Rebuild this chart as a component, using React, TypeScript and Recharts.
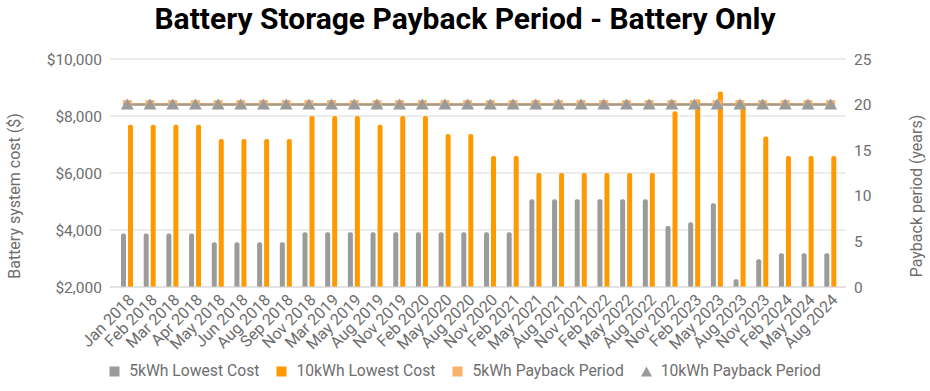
import { ComposedChart, Bar, Line, XAxis, YAxis, CartesianGrid } from 'recharts'

const categories = [
    'Jan 2018', 'Feb 2018', 'Mar 2018', 'Apr 2018', 'May 2018', 'Jun 2018', 'Aug 2018', 'Sep 2018',
    'Nov 2018', 'Mar 2019', 'May 2019', 'Aug 2019', 'Nov 2019', 'Feb 2020', 'May 2020', 'Aug 2020',
    'Nov 2020', 'Feb 2021', 'May 2021', 'Aug 2021', 'Nov 2021', 'Feb 2022', 'May 2022', 'Aug 2022',
    'Nov 2022', 'Feb 2023', 'May 2023', 'Aug 2023', 'Nov 2023', 'Feb 2024', 'May 2024', 'Aug 2024',
]

const cost5kWh = [
    3880, 3880, 3880, 3880, 3570, 3570, 3570, 3570,
    3920, 3920, 3920, 3920, 3920, 3920, 3920, 3920,
    3920, 3920, 5080, 5080, 5080, 5080, 5080, 5080,
    4140, 4270, 4940, 2270, 2970, 3180, 3180, 3180,
]

const cost10kWh = [
    7690, 7690, 7690, 7690, 7190, 7190, 7190, 7190,
    8000, 8000, 8000, 7690, 8000, 8000, 7370, 7370,
    6600, 6600, 6000, 6000, 6000, 6000, 6000, 6000,
    8170, 8590, 8860, 8440, 7280, 6600, 6600, 6600,
]

const payback5kWh = [
    20, 20, 20, 20, 20, 20, 20, 20, 20, 20, 20, 20, 20, 20, 20, 20,
    20, 20, 20, 20, 20, 20, 20, 20, 20, 20, 20, 20, 20, 20, 20, 20,
]

const payback10kWh = [
    20, 20, 20, 20, 20, 20, 20, 20, 20, 20, 20, 20, 20, 20, 20, 20,
    20, 20, 20, 20, 20, 20, 20, 20, 20, 20, 20, 20, 20, 20, 20, 20,
]

const costTicks = [2000, 4000, 6000, 8000, 10000]
const yearTicks = [0, 5, 10, 15, 20, 25]

const data = categories.map((c, i) => ({
    month: c,
    cost5: cost5kWh[i],
    cost10: cost10kWh[i],
    pay5: payback5kWh[i],
    pay10: payback10kWh[i],
}))

const TEXT = '#6e6e6e'
const GRID = '#d9d9d9'
const GREY = '#9b9b9b'
const ORANGE = '#ff9900'
const LIGHT = '#f8b26a'
const FONT = 'Roboto, sans-serif'

const money = (v: number) => '$' + String(v).replace(/\B(?=(\d{3})+(?!\d))/g, ',')

const MonthTick = ({ x, y, payload }: any) => (
    <text
        transform={`translate(${x + 8},${y + 6}) rotate(-45)`}
        textAnchor="end"
        fill={TEXT}
        fontSize={16}
        fontFamily={FONT}
    >
        {payload.value}
    </text>
)

const Triangle = ({ cx, cy }: any) => (
    <path d={`M${cx},${cy - 6} L${cx + 6.5},${cy + 5} L${cx - 6.5},${cy + 5} Z`} fill={GREY} />
)

const Square = ({ cx, cy }: any) => (
    <rect x={cx - 4.5} y={cy - 4.5} width={9} height={9} fill={LIGHT} />
)

const LeftTitle = ({ viewBox }: any) => {
    const cx = viewBox.x + 20
    const cy = viewBox.y + viewBox.height / 2 + 23
    return (
        <text transform={`translate(${cx},${cy}) rotate(-90)`} textAnchor="middle" fill={TEXT} fontSize={16} fontFamily={FONT}>
            Battery system cost ($)
        </text>
    )
}

const RightTitle = ({ viewBox }: any) => {
    const cx = viewBox.x + viewBox.width - 8
    const cy = viewBox.y + viewBox.height / 2 + 23
    return (
        <text transform={`translate(${cx},${cy}) rotate(-90)`} textAnchor="middle" fill={TEXT} fontSize={16} fontFamily={FONT}>
            Payback period (years)
        </text>
    )
}

const legendItems = [
    { label: '5kWh Lowest Cost', color: GREY, kind: 'square' },
    { label: '10kWh Lowest Cost', color: ORANGE, kind: 'square' },
    { label: '5kWh Payback Period', color: LIGHT, kind: 'square' },
    { label: '10kWh Payback Period', color: GREY, kind: 'triangle' },
]

export default function App() {
    return (
        <div style={{ position: 'absolute', left: 0, top: 0, width: 930, height: 391, background: '#fff', fontFamily: FONT }}>
            <div style={{
                position: 'absolute',
                top: 1,
                width: 930,
                textAlign: 'center',
                fontSize: 30,
                fontWeight: 700,
                color: '#000',
            }}>
                Battery Storage Payback Period - Battery Only
            </div>
            <ComposedChart
                width={930}
                height={391}
                data={data}
                margin={{ top: 59, right: 0, bottom: 0, left: 0 }}
                barSize={5}
                barGap={2}
            >
                <CartesianGrid yAxisId="cost" vertical={false} stroke={GRID} />
                <XAxis
                    dataKey="month"
                    interval={0}
                    height={104}
                    padding={{ left: 6, right: 4 }}
                    tickLine={false}
                    axisLine={{ stroke: GRID }}
                    tick={<MonthTick />}
                />
                <YAxis
                    yAxisId="cost"
                    width={110}
                    domain={[2000, 10000]}
                    ticks={costTicks}
                    tickFormatter={money}
                    tickLine={false}
                    axisLine={false}
                    tick={{ fill: TEXT, fontSize: 15.5, fontFamily: FONT }}
                    label={<LeftTitle />}
                />
                <YAxis
                    yAxisId="years"
                    orientation="right"
                    width={84}
                    domain={[0, 25]}
                    ticks={yearTicks}
                    tickLine={false}
                    axisLine={false}
                    tick={{ fill: TEXT, fontSize: 15.5, fontFamily: FONT, textAnchor: 'start' }}
                    label={<RightTitle />}
                />
                <Bar yAxisId="cost" dataKey="cost5" fill={GREY} radius={[2, 2, 0, 0]} isAnimationActive={false} />
                <Bar yAxisId="cost" dataKey="cost10" fill={ORANGE} radius={[2, 2, 0, 0]} isAnimationActive={false} />
                <Line
                    yAxisId="years"
                    dataKey="pay5"
                    stroke={LIGHT}
                    strokeWidth={3}
                    dot={<Square />}
                    activeDot={false}
                    isAnimationActive={false}
                />
                <Line
                    yAxisId="years"
                    dataKey="pay10"
                    stroke={GREY}
                    strokeWidth={2}
                    dot={<Triangle />}
                    activeDot={false}
                    isAnimationActive={false}
                />
            </ComposedChart>
            <div style={{
                position: 'absolute',
                top: 360,
                width: 930,
                display: 'flex',
                justifyContent: 'center',
                gap: 17,
                fontSize: 15.7,
                color: TEXT,
                lineHeight: '22px',
            }}>
                {legendItems.map((it) => (
                    <div key={it.label} style={{ display: 'flex', alignItems: 'center', gap: 9 }}>
                        <svg width={11} height={11}>
                            {it.kind === 'square'
                                ? <rect x={0.5} y={0.5} width={10} height={10} fill={it.color} />
                                : <path d="M5.5,0.5 L11,10.5 L0,10.5 Z" fill={it.color} />}
                        </svg>
                        <span>{it.label}</span>
                    </div>
                ))}
            </div>
        </div>
    )
}
